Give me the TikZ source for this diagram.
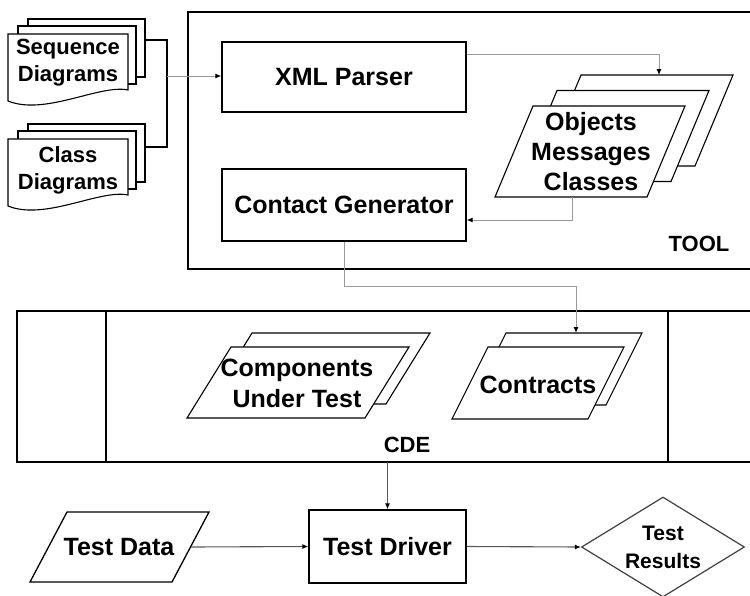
\documentclass[tikz,border=0pt]{standalone}
\usepackage{fontspec}
\setmainfont{Liberation Sans}
\usetikzlibrary{arrows.meta,calc,shapes.geometric}

\tikzset{
  frame/.style={draw, line width=1.3pt},
  sheet/.style={draw, fill=white, line width=1.1pt},
  box/.style={draw, fill=white, line width=1.4pt, inner sep=0pt},
  txt/.style={font=\fontsize{25}{30}\selectfont\bfseries, align=center, inner sep=0pt},
  small/.style={font=\fontsize{22}{27}\selectfont\bfseries, align=center, inner sep=0pt},
  flow/.style={draw=gray!80, line width=1pt, -{Latex[length=6pt,width=5pt,color=black]}},
  link/.style={draw=black!65, line width=1.1pt, -{Latex[length=6pt,width=5pt,color=black]}},
}

\begin{document}
\begin{tikzpicture}[x=1pt,y=-1pt]
\useasboundingbox (0,0) rectangle (750,595);

% outer frames
\draw[frame] (188,12) rectangle (752,269);
\draw[frame, line width=1.6pt] (17,311) rectangle (752,462);
\draw[frame] (106,311) -- (106,462);
\draw[frame] (668,311) -- (668,462);

% diagram documents (two stacks of three sheets)
\foreach \s in {0,105} {
  \draw[sheet, yshift=-\s pt] (28,19) rectangle (145,77);
  \draw[sheet, yshift=-\s pt] (18,26) rectangle (136,84);
  \draw[sheet, yshift=-\s pt] (8,34) -- (128,34) -- (128,90)
    .. controls (100,84) and (45,116) .. (8,101) -- cycle;
}
\node[small] (seq) at (68,63) {Sequence\\Diagrams};
\node[small] (cls) at (68,170) {Class\\Diagrams};
\coordinate (seq-out) at (145,40);
\coordinate (cls-out) at (145,147);
\coordinate (join) at (167,76);

% tool boxes
\node[box, txt, minimum width=244pt, minimum height=70pt] (xml) at (344,77) {XML Parser};
\node[box, txt, minimum width=244pt, minimum height=72pt] (gen) at (344,205) {Contact Generator};
\node[small] (tool) at (699,244) {TOOL};

% parsed data stack
\foreach \d in {2,1,0}
  \draw[sheet, shift={(24*\d,-15.5*\d)}] (495,197) -- (533,106) -- (685,106) -- (647,197) -- cycle;
\node[txt] (obj) at (591,152) {Objects\\Messages\\Classes};
\coordinate (obj-in) at (659,75);
\coordinate (obj-out) at (572,197);

% CDE contents
\foreach \d in {1,0}
  \draw[sheet, shift={(21*\d,-14*\d)}] (187,418) -- (231,347) -- (409,347) -- (365,418) -- cycle;
\node[txt, font=\fontsize{25}{31}\selectfont\bfseries] (cut) at (297,383) {Components\\Under Test};
\foreach \d in {1,0}
  \draw[sheet, shift={(18*\d,-14*\d)}] (452,419) -- (488,347) -- (624,347) -- (588,419) -- cycle;
\node[txt] (con) at (538,385) {Contracts};
\coordinate (con-in) at (576,333);
\node[small] (cde) at (407,445) {CDE};
\coordinate (cde-out) at (387.5,462);

% test run
\draw[sheet, line width=1.3pt] (30,582) -- (67,512) -- (209,512) -- (172,582) -- cycle;
\node[txt] (dat) at (119,547) {Test Data};
\coordinate (dat-out) at (191,547);
\node[box, txt, minimum width=157pt, minimum height=73pt] (drv) at (387.5,546.5) {Test Driver};
\node[diamond, draw=black!75, line width=1.2pt, fill=white, aspect=1.6,
  minimum width=163pt, minimum height=100pt, inner sep=0pt,
  font=\fontsize{21}{28}\selectfont\bfseries, align=center] (res) at (663,547) {Test\\Results};

% connectors
\draw[line width=1.2pt] (seq-out) -| (join) |- (cls-out);
\draw[flow] (join) -- (join -| xml.west);
\draw[flow] ($(xml.north east)+(0,13)$) -| (obj-in);
\draw[flow] (obj-out) |- ($(gen.east)+(0,15)$);
\draw[flow] (gen.south) -- ++(0,45) -| (con-in);
\draw[link] (cde-out) -- (drv.north);
\draw[link] (dat-out) -- (drv.west);
\draw[link] (drv.east) -- (res.west);

\end{tikzpicture}
\end{document}
